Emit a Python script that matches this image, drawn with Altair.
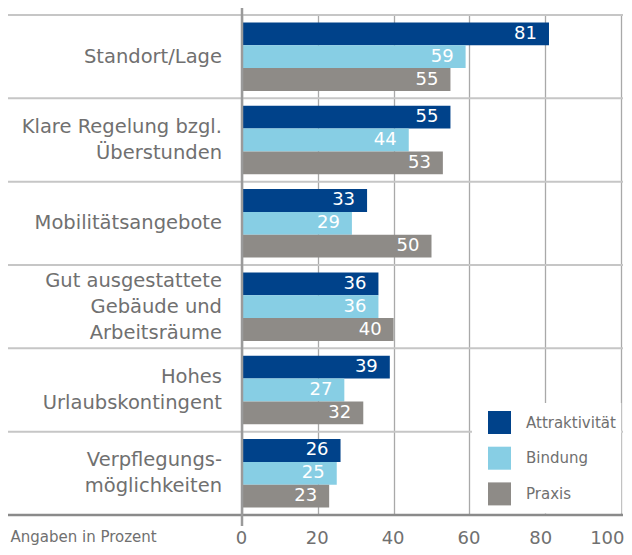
import altair as alt
import pandas as pd

categories = [
    "Standort/Lage",
    "Klare Regelung bzgl.\nÜberstunden",
    "Mobilitätsangebote",
    "Gut ausgestattete\nGebäude und\nArbeitsräume",
    "Hohes\nUrlaubskontingent",
    "Verpflegungs-\nmöglichkeiten",
]
series = ["Attraktivität", "Bindung", "Praxis"]
attraktivitaet = [81, 55, 33, 36, 39, 26]
bindung = [59, 44, 29, 36, 27, 25]
praxis = [55, 53, 50, 40, 32, 23]
colors = ["#00428a", "#87cee4", "#8e8b87"]
x_ticks = [0, 20, 40, 60, 80, 100]

rows = []
for i, c in enumerate(categories):
    for s, vals in zip(series, [attraktivitaet, bindung, praxis]):
        rows.append({"cat": c, "series": s, "value": vals[i]})
df = pd.DataFrame(rows)
cat_df = pd.DataFrame({"cat": categories,
                       "nlines": [c.count("\n") + 1 for c in categories]})
one = pd.DataFrame({"a": [0]})

W, H = 379, 500
FONT = "DejaVu Sans"
LABEL_GREY = "#707070"
LINE_H = 26

y_scale = alt.Scale(domain=categories, paddingInner=0, paddingOuter=0)
y_enc = alt.Y("cat:N", sort=categories, axis=None, scale=y_scale)
yoff = alt.YOffset("series:N", sort=series,
                   scale=alt.Scale(domain=series, paddingInner=0, paddingOuter=0.323))
x_axis = alt.Axis(
    values=x_ticks, grid=True, gridColor="#a9a9a9", gridWidth=1.3,
    domain=False, ticks=False, tickSize=0,
    labelFontSize=18, labelColor=LABEL_GREY, labelPadding=14, labelFont=FONT,
    labelFlush=False, labelOverlap=False,
    labelAlign={"condition": {"test": "datum.value == 100", "value": "right"},
                "value": "center"},
    labelOffset={"condition": [
        {"test": "datum.value == 100", "value": 3},
        {"test": "datum.value == 80", "value": -5},
    ], "value": -1},
    title="Angaben in Prozent", titleX=-232, titleY=26, titleAlign="left",
    titleBaseline="alphabetic", titleFontSize=15, titleFontWeight="normal",
    titleColor=LABEL_GREY, titleFont=FONT,
)
x_scale = alt.Scale(domain=[0, 100], nice=False, zero=True)
x_enc = alt.X("value:Q", scale=x_scale, axis=x_axis)

separators = alt.Chart(cat_df).mark_rule(color="#c6c6c6", strokeWidth=2).encode(
    y=alt.Y("cat:N", sort=categories, axis=None, scale=y_scale, bandPosition=0),
    x=alt.value(-234), x2=alt.value(381),
)

legend_bg = alt.Chart(one).mark_rect(color="white").encode(
    x=alt.value(230), x2=alt.value(379.3), y=alt.value(388), y2=alt.value(498.5)
)

bottom_line = alt.Chart(one).mark_rule(color="#8a8a8a", strokeWidth=2.5).encode(
    y=alt.value(H), x=alt.value(-234), x2=alt.value(381)
)

bars = alt.Chart(df).mark_bar(strokeWidth=0).encode(
    x=x_enc,
    y=y_enc,
    yOffset=yoff,
    color=alt.Color(
        "series:N", sort=series,
        scale=alt.Scale(domain=series, range=colors),
        legend=alt.Legend(
            title=None, orient="none", legendX=246, legendY=396, padding=0,
            symbolType="square", symbolSize=529, symbolStrokeWidth=0,
            symbolOpacity=1, labelFontSize=15, labelOffset=15,
            rowPadding=12.7, labelColor=LABEL_GREY, labelFont=FONT,
        ),
    ),
)

values = alt.Chart(df).mark_text(
    align="right", baseline="middle", dx=-12, color="white", fontSize=18, font=FONT
).encode(x=alt.X("value:Q", scale=x_scale, axis=x_axis), y=y_enc, yOffset=yoff,
         text="value:Q")

label_layers = []
for n in sorted(set(cat_df["nlines"])):
    label_layers.append(
        alt.Chart(cat_df).transform_filter(f"datum.nlines == {n}").mark_text(
            align="right", baseline="middle", lineBreak="\n", lineHeight=LINE_H,
            fontSize=19.5, color=LABEL_GREY, font=FONT, dy=-(n - 1) * LINE_H / 2,
        ).encode(y=y_enc, x=alt.value(-20), text="cat:N")
    )

zero_line = alt.Chart(one).mark_rule(color="#9a9a9a", strokeWidth=2.5).encode(
    x=alt.value(0), y=alt.value(-11), y2=alt.value(511)
)

chart = alt.layer(
    separators, legend_bg, bottom_line, bars, values, *label_layers, zero_line
).properties(
    width=W, height=H,
    autosize=alt.AutoSizeParams(type="none"),
    padding={"left": 234, "top": 7, "right": 3, "bottom": 32},
).configure_view(stroke=None).configure(font=FONT)

chart.save("out.html", embed_options={"renderer": "svg", "actions": False})
